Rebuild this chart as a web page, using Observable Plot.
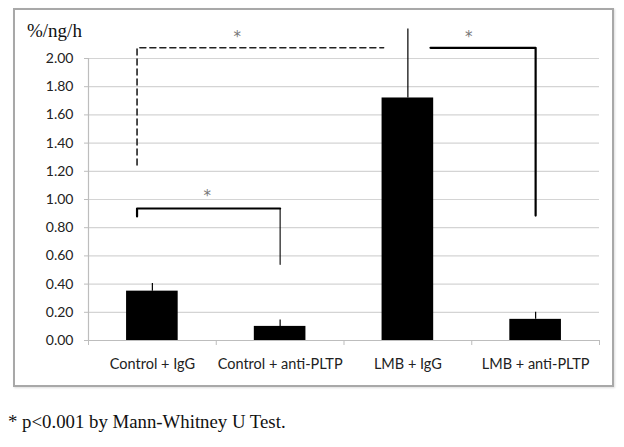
<!DOCTYPE html>
<html>
<head>
<meta charset="utf-8">
<script src="https://cdn.jsdelivr.net/npm/d3@7"></script>
<script src="https://cdn.jsdelivr.net/npm/@observablehq/plot@0.6"></script>
<style>
  html, body { margin: 0; padding: 0; background: #fff; }
  #wrap { position: relative; width: 624px; height: 447px; overflow: hidden; }
  #frame { position: absolute; left: 13px; top: 8px; width: 597px; height: 375px; border: 2px solid #a8a8a8; box-shadow: 1px 1px 2px #ddd; }
  #chart { position: absolute; left: 0; top: 0; }
  #ylabel { position: absolute; left: 27px; top: 20px; font-family: "Liberation Serif", "Times New Roman", serif; font-size: 19px; color: #111; }
  #caption { position: absolute; left: 8px; top: 411px; font-family: "Liberation Serif", "Times New Roman", serif; font-size: 18.8px; color: #111; }
</style>
</head>
<body>
<div id="wrap">
  <div id="frame"></div>
  <div id="chart"></div>
  <div id="ylabel">%/ng/h</div>
  <div id="caption">* p&lt;0.001 by Mann-Whitney U Test.</div>
</div>
<script>
// Categories and values
const categories = ["Control + IgG", "Control + anti-PLTP", "LMB + IgG", "LMB + anti-PLTP"];
const means = [0.35, 0.10, 1.72, 0.15];
const errorsPlus = [0.055, 0.045, 0.49, 0.05];
const yTicks = [0, 0.2, 0.4, 0.6, 0.8, 1.0, 1.2, 1.4, 1.6, 1.8, 2.0];

// Significance brackets (x in category units, 0..4; y in %/ng/h)
const bracketDashedX = [0.38, 0.38, 2.31];
const bracketDashedY = [1.245, 2.076, 2.076];
const bracketCtrlX = [0.38, 0.38, 1.5];
const bracketCtrlY = [0.88, 0.936, 0.936];
const bracketCtrlDropX = [1.5, 1.5];
const bracketCtrlDropY = [0.936, 0.54];
const bracketLmbX = [2.677, 3.5, 3.5];
const bracketLmbY = [2.076, 2.076, 0.886];
const starX = [1.164, 0.929, 2.977];
const starY = [2.148, 1.024, 2.15];

const data = categories.map((c, i) => ({c, i, mean: means[i], err: errorsPlus[i]}));
const pts = (xs, ys) => xs.map((x, k) => ({x, y: ys[k]}));
const stars = starX.map((x, k) => ({x, y: starY[k]}));

const sans = "Lato, 'Open Sans', sans-serif";

const chart = Plot.plot({
  width: 624,
  height: 400,
  marginLeft: 88,
  marginRight: 25,
  marginTop: 58,
  marginBottom: 60,
  style: {background: "transparent", fontFamily: sans},
  x: {domain: [0, 4], axis: null},
  y: {domain: [0, 2], axis: null},
  marks: [
    Plot.ruleY(yTicks.slice(1), {stroke: "#d4d4d4", strokeWidth: 1.2}),
    Plot.ruleY([0], {stroke: "#bdbdbd", strokeWidth: 1.2}),
    Plot.ruleX([0], {y1: 0, y2: 2, stroke: "#bdbdbd", strokeWidth: 1.2}),
    Plot.axisY({
      ticks: yTicks, tickFormat: d => d.toFixed(2), tickSize: 4, tickPadding: 11,
      stroke: "#bdbdbd", fill: "#222", fontSize: 14, label: null
    }),
    Plot.axisX({
      ticks: [0, 1, 2, 3, 4], tickFormat: () => "", tickSize: 5,
      stroke: "#bdbdbd", label: null
    }),
    Plot.axisX({
      ticks: categories.map((c, i) => i + 0.5), tickFormat: d => categories[Math.round(d - 0.5)],
      tickSize: 0, tickPadding: 18, fill: "#222", fontSize: 14.5, label: null
    }),
    Plot.rectY(data, {x1: d => d.i + 0.298, x2: d => d.i + 0.702, y: "mean", fill: "#000"}),
    Plot.ruleX(data, {x: d => d.i + 0.5, y1: "mean", y2: d => d.mean + d.err, stroke: "#000", strokeWidth: 1.2}),
    Plot.line(pts(bracketDashedX, bracketDashedY), {x: "x", y: "y", stroke: "#222", strokeWidth: 1.6, strokeDasharray: "6,4"}),
    Plot.line(pts(bracketCtrlX, bracketCtrlY), {x: "x", y: "y", stroke: "#000", strokeWidth: 2.2}),
    Plot.line(pts(bracketCtrlDropX, bracketCtrlDropY), {x: "x", y: "y", stroke: "#000", strokeWidth: 1.1}),
    Plot.line(pts(bracketLmbX, bracketLmbY), {x: "x", y: "y", stroke: "#000", strokeWidth: 2.2}),
    Plot.text(stars, {x: "x", y: "y", text: () => "*", fill: "#777", fontSize: 15, fontFamily: "'DejaVu Sans', sans-serif"})
  ]
});
document.getElementById("chart").appendChild(chart);
</script>
</body>
</html>
